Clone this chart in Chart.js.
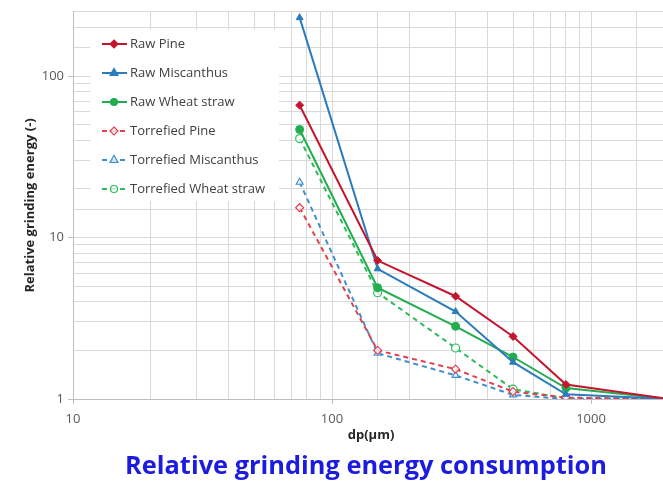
<!DOCTYPE html>
<html>
<head>
<meta charset="utf-8">
<script src="https://cdn.jsdelivr.net/npm/chart.js@4.4.1/dist/chart.umd.min.js"></script>
<style>
  html, body { margin: 0; padding: 0; background: #ffffff; overflow: hidden; }
  #wrap { width: 676px; height: 484px; }
</style>
</head>
<body>
<div id="wrap"><canvas id="c" width="676" height="484"></canvas></div>
<script>
// ---- data ----
const dp = [75, 150, 300, 500, 800, 2000];
const rawPine = [66, 7.2, 4.33, 2.44, 1.23, 1];
const rawMiscanthus = [230, 6.4, 3.48, 1.69, 1.07, 1];
const rawWheat = [46.7, 4.89, 2.82, 1.82, 1.17, 1];
const torrPine = [15.3, 2.0, 1.53, 1.11, 1.02, 1];
const torrMiscanthus = [22, 1.92, 1.40, 1.06, 1.0, 1];
const torrWheat = [41, 4.55, 2.07, 1.15, 1.01, 1];
const seriesNames = ['Raw Pine', 'Raw Miscanthus', 'Raw Wheat straw', 'Torrefied Pine', 'Torrefied Miscanthus', 'Torrefied Wheat straw'];
const xTickLabels = [10, 100, 1000];
const yTickLabels = [1, 10, 100];
const xTitle = 'dp(\u00b5m)';
const yTitle = 'Relative grinding energy (-)';
const chartTitle = 'Relative grinding energy consumption';

const RED = '#c3162e', BLUE = '#2b7bbd', GREEN = '#22ad4e';
const RED_L = '#e0404f', BLUE_L = '#3f8fd0', GREEN_L = '#2fbb5c';

function pts(ys) { return dp.map((x, i) => ({ x: x, y: ys[i] })); }

function ds(label, ys, color, style, dashed) {
  return {
    label: label,
    data: pts(ys),
    borderColor: color,
    backgroundColor: dashed ? 'rgba(255,255,255,0.75)' : color,
    pointBorderColor: color,
    pointBackgroundColor: dashed ? 'rgba(255,255,255,0.75)' : color,
    pointStyle: style,
    pointRadius: 4,
    pointBorderWidth: dashed ? 1.2 : 1,
    borderWidth: 2,
    borderDash: dashed ? [5, 4] : [],
    tension: 0,
    fill: false
  };
}

const datasets = [
  ds(seriesNames[0], rawPine, RED, 'rectRot', false),
  ds(seriesNames[1], rawMiscanthus, BLUE, 'triangle', false),
  ds(seriesNames[2], rawWheat, GREEN, 'circle', false),
  ds(seriesNames[3], torrPine, RED_L, 'rectRot', true),
  ds(seriesNames[4], torrMiscanthus, BLUE_L, 'triangle', true),
  ds(seriesNames[5], torrWheat, GREEN_L, 'circle', true)
];

function drawMarker(ctx, style, x, y, r, stroke, fill) {
  ctx.save();
  ctx.beginPath();
  if (style === 'circle') {
    ctx.arc(x, y, r, 0, Math.PI * 2);
  } else if (style === 'triangle') {
    ctx.moveTo(x, y - r * 1.15);
    ctx.lineTo(x + r, y + r * 0.6);
    ctx.lineTo(x - r, y + r * 0.6);
    ctx.closePath();
  } else {
    ctx.moveTo(x, y - r);
    ctx.lineTo(x + r, y);
    ctx.lineTo(x, y + r);
    ctx.lineTo(x - r, y);
    ctx.closePath();
  }
  ctx.fillStyle = fill; ctx.fill();
  ctx.setLineDash([]);
  ctx.lineWidth = 1.2; ctx.strokeStyle = stroke; ctx.stroke();
  ctx.restore();
}

const legendPlugin = {
  id: 'boxLegend',
  beforeDatasetsDraw(chart) {
    const ctx = chart.ctx;
    ctx.save();
    ctx.fillStyle = '#ffffff';
    ctx.fillRect(90, 30, 189, 171);
    ctx.font = '13px "Open Sans"';
    ctx.textBaseline = 'middle';
    ctx.textAlign = 'left';
    chart.data.datasets.forEach((d, i) => {
      const y = 44 + i * 29;
      ctx.save();
      ctx.strokeStyle = d.borderColor;
      ctx.lineWidth = 2;
      ctx.setLineDash(d.borderDash || []);
      ctx.beginPath();
      ctx.moveTo(102, y); ctx.lineTo(127, y);
      ctx.stroke();
      ctx.restore();
      drawMarker(ctx, d.pointStyle, 114, y, d.pointStyle === 'circle' ? 3.5 : 4, d.borderColor, d.pointBackgroundColor);
      ctx.fillStyle = '#404040';
      ctx.fillText(d.label, 130, y);
    });
    ctx.restore();
  },
  afterDraw(chart) {
    const ctx = chart.ctx;
    ctx.save();
    ctx.font = 'bold 25.4px "Open Sans"';
    ctx.fillStyle = '#1c1ce0';
    ctx.textAlign = 'center';
    ctx.textBaseline = 'middle';
    ctx.fillText(chartTitle, 366, 467);
    ctx.restore();
  }
};

const chart = new Chart(document.getElementById('c'), {
  type: 'line',
  data: { datasets: datasets },
  plugins: [legendPlugin],
  options: {
    responsive: false,
    animation: false,
    devicePixelRatio: 1,
    layout: { padding: { top: 9, right: 4, left: 0, bottom: 41 } },
    plugins: {
      legend: { display: false },
      tooltip: { enabled: false },
      title: { display: false }
    },
    scales: {
      x: {
        type: 'logarithmic',
        min: 10, max: 2000,
        afterFit(s) { s.height = 44; },
        border: { color: '#bfbfbf', width: 1 },
        grid: {
          color: '#d9d9d9',
          tickLength: 5,
          tickColor: (c) => xTickLabels.includes(c.tick && c.tick.value) ? '#bfbfbf' : 'rgba(0,0,0,0)'
        },
        ticks: {
          autoSkip: false, maxRotation: 0, padding: 7,
          color: '#595959',
          font: { family: '"Open Sans"', size: 13 },
          callback: (v) => xTickLabels.includes(v) ? String(v) : ''
        },
        title: {
          display: true, text: xTitle, color: '#262626',
          font: { family: '"Open Sans"', size: 13, weight: 'bold' },
          padding: { top: 0, bottom: 0 }
        }
      },
      y: {
        type: 'logarithmic',
        min: 1, max: 250,
        afterFit(s) { s.width = 73; },
        border: { color: '#bfbfbf', width: 1 },
        grid: {
          color: '#d9d9d9',
          tickLength: 5,
          tickColor: (c) => yTickLabels.includes(c.tick && c.tick.value) ? '#bfbfbf' : 'rgba(0,0,0,0)'
        },
        ticks: {
          autoSkip: false, padding: 4,
          color: '#595959',
          font: { family: '"Open Sans"', size: 13 },
          callback: (v) => yTickLabels.includes(v) ? String(v) : ''
        },
        title: {
          display: true, text: yTitle, color: '#262626',
          font: { family: '"Open Sans"', size: 13, weight: 'bold' },
          padding: { top: 22, bottom: 0 }
        }
      }
    }
  }
});
</script>
</body>
</html>
